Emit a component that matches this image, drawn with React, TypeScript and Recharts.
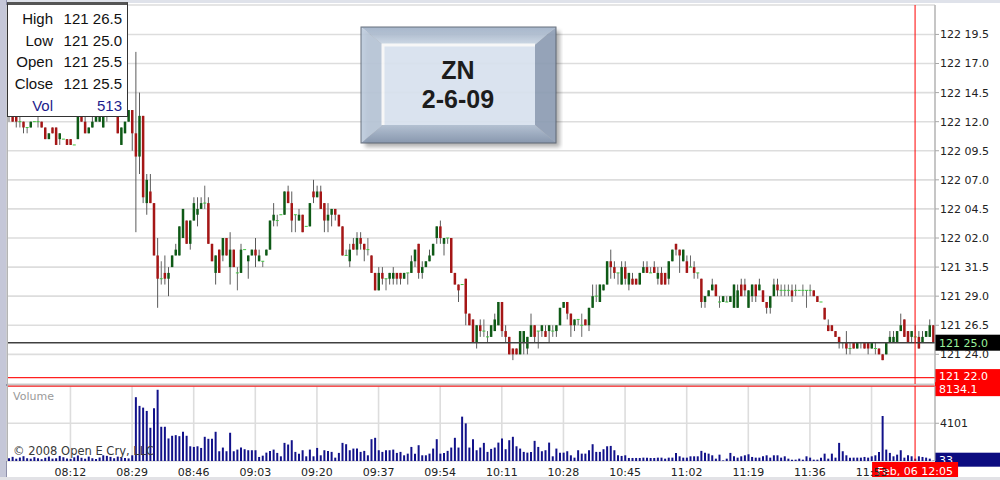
import { ComposedChart, BarChart, Bar, XAxis, YAxis, CartesianGrid, ReferenceLine } from 'recharts';

// prices are in 32nds above 121-00 (e.g. 25.5 = 121 25.5, 34 = 122 02.0)
const opens = [
  44.5, 44.5, 44.5, 44, 44, 43.5, 43.5, 44, 44, 44,
  43.5, 42.5, 43.5, 43.5, 42.5, 42.5, 42.5, 42.5, 42, 42.5,
  44.5, 44, 43, 43.5, 44, 44, 43.5, 44.5, 44.5, 44.5,
  44.5, 42, 43, 44, 45, 43, 41, 44.5, 37, 38,
  37, 32.5, 30.5, 31, 30.5, 31.5, 32.5, 32.5, 34, 35.5,
  33.5, 35.5, 36, 36.5, 37, 37, 33.5, 31, 33, 32.5,
  34, 31.5, 33, 31, 31, 33, 32, 32.5, 33, 32,
  32, 32.5, 33, 35.5, 35.5, 36, 36, 38, 37, 36,
  35.5, 36, 35, 35, 38, 37.5, 38, 37, 35.5, 36,
  36.5, 36, 35, 32.5, 32, 33.5, 33, 34, 33.5, 33,
  32.5, 31, 29.5, 31, 30.5, 30.5, 30.5, 31, 31, 30.5,
  31, 31, 32, 33.5, 31, 31.5, 32, 32.5, 34, 35,
  33.5, 34, 34, 31, 30, 30, 30.5, 27.5, 27, 25,
  26.5, 26, 25.5, 25.5, 26, 26.5, 28.5, 26, 25.5, 24.5,
  24.5, 24, 25, 24.5, 25.5, 26.5, 26, 26, 26, 26,
  26, 26, 26.5, 28, 28.5, 27.5, 26.5, 27, 26.5, 27,
  26.5, 28, 29, 28.5, 29.5, 30, 32, 31.5, 31, 30,
  31.5, 30, 30.5, 30.5, 30, 31, 31.5, 31, 31.5, 30.5,
  31, 31, 30.5, 32, 33.5, 33, 32, 32, 31.5, 31.5,
  31, 30.5, 28.5, 29, 29.5, 30, 28.5, 28.5, 28.5, 28.5,
  28, 28, 30, 30, 28, 29, 30, 29.5, 29.5, 28.5,
  28, 29, 30, 29.5, 29.5, 29.5, 29.5, 29.5, 29.5, 29.5,
  29.5, 29.5, 29.5, 29, 28.5, 28, 26.5, 26.5, 26, 25.5,
  25, 25, 24.5, 25, 24.5, 25, 25, 25, 24.5, 24.5,
  24.5, 24, 24, 25, 25, 25, 26, 27, 26, 25.5,
  25.5, 25.5, 25, 25.5, 25.5, 26.5,
];
const highs = [
  45, 45, 45, 44.5, 44, 43.5, 44, 44, 44.5, 44,
  43.5, 43, 43.5, 43.5, 43, 42.5, 42.5, 42.5, 42, 44.5,
  45, 44.5, 43.5, 44.5, 45, 45, 45, 45, 45, 45,
  45, 43.5, 44, 45, 45, 50, 46.5, 44.5, 39.5, 39.5,
  37, 34, 32, 32.5, 31.5, 32.5, 33.5, 35, 36.5, 35.5,
  35.5, 37.5, 37.5, 37.5, 38.5, 37.5, 33.5, 32.5, 33, 34,
  34, 34.5, 33, 31.5, 33.5, 33, 32.5, 33, 34, 33,
  32, 33, 35.5, 37, 36, 36, 38, 38.5, 38, 36,
  36.5, 36, 35, 37, 39, 38.5, 38.5, 37, 37, 36.5,
  36.5, 36, 35, 33, 33.5, 34, 34.5, 34.5, 33.5, 34,
  32.5, 31, 31.5, 31.5, 30.5, 31, 31.5, 31, 31, 31,
  31, 32.5, 33, 33.5, 32, 32, 33, 33.5, 35, 35.5,
  34, 34, 34, 31, 30, 30, 30.5, 27.5, 27, 26.5,
  27, 27, 26, 26.5, 27.5, 28.5, 28.5, 26.5, 25.5, 24.5,
  24.5, 26, 26, 25.5, 27.5, 26.5, 26, 26.5, 26.5, 26.5,
  26.5, 26.5, 28, 28.5, 28.5, 27.5, 27, 27, 27.5, 27,
  28, 30, 30, 30, 30, 32, 33, 32, 31, 32,
  32, 31, 31, 30.5, 31, 32, 32, 31.5, 32, 31.5,
  31.5, 31, 32, 33, 33.5, 33, 33, 32.5, 32.5, 32,
  31, 30.5, 29, 29.5, 30.5, 30, 29, 29, 29, 29,
  30, 30, 30.5, 30.5, 29.5, 30, 30, 30.5, 29.5, 28.5,
  29, 30.5, 30.5, 30, 30, 30, 30, 30, 29.5, 30,
  29.5, 30, 29.5, 29, 28.5, 28, 27, 26.5, 26, 25.5,
  25, 26, 25, 25, 25, 25, 25, 25, 25, 25,
  24.5, 24, 25, 26, 26, 26, 27.5, 27, 26, 26,
  26.5, 26, 26, 26, 27, 26.5,
];
const lows = [
  44, 44, 43.5, 43.5, 43, 43, 43.5, 44, 43.5, 43.5,
  42.5, 42.5, 43, 42, 42, 42.5, 42, 42, 42, 42.5,
  44, 43, 43, 43.5, 44, 44, 43.5, 44, 44.5, 44.5,
  43, 42, 43, 44, 41.5, 34.5, 39.5, 37, 36, 37,
  32.5, 28, 30, 30, 29, 31.5, 32.5, 32.5, 34, 33.5,
  33, 35.5, 35, 36.5, 36.5, 33.5, 32, 30, 31, 32,
  32.5, 30, 31.5, 29.5, 31, 33, 30.5, 32.5, 31.5, 32,
  31.5, 32.5, 33, 35, 35, 36, 36, 37, 34.5, 34.5,
  35.5, 34.5, 35, 35, 37, 37.5, 36.5, 34.5, 34.5, 35,
  35.5, 35, 32.5, 32.5, 31.5, 33, 32.5, 33, 32, 32.5,
  31, 29.5, 29.5, 30, 29.5, 30, 30, 30, 30, 30.5,
  30, 31, 31.5, 30.5, 30.5, 31.5, 32, 32.5, 33.5, 33.5,
  32.5, 33.5, 31, 30, 28.5, 30, 26.5, 26.5, 25, 24.5,
  25.5, 25.5, 25, 25.5, 26, 26.5, 25.5, 25, 24, 23.5,
  24, 24, 24, 24, 25.5, 25, 24.5, 25.5, 25.5, 25,
  25.5, 25.5, 26.5, 28, 27, 25.5, 26, 26.5, 25.5, 26.5,
  26, 28, 28.5, 28.5, 29.5, 30, 30.5, 30.5, 30, 30,
  30, 29.5, 30, 30, 30, 31, 31, 31, 31, 30,
  30, 30, 30, 32, 32.5, 31, 32, 31, 31.5, 30.5,
  30.5, 28, 28, 29, 29.5, 29, 28, 28.5, 28.5, 28.5,
  28, 28, 29, 29, 28, 28.5, 28.5, 29.5, 28.5, 27.5,
  27.5, 29, 29, 29, 29, 29, 28.5, 29, 29.5, 29,
  28, 29, 29, 28.5, 28.5, 27, 26, 26, 25.5, 24.5,
  24.5, 24, 24, 24.5, 24.5, 24.5, 24.5, 24, 24.5, 24,
  24, 23.5, 24, 25, 25, 25, 26, 25.5, 25, 25,
  25, 24.5, 25, 25.5, 25.5, 25,
];
const closes = [
  44.5, 44, 44, 44, 43.5, 43.5, 44, 44, 44, 43.5,
  42.5, 43, 43, 42, 43, 42.5, 42, 42, 42, 44.5,
  44, 43, 43.5, 44, 44.5, 44.5, 44.5, 44.5, 44.5, 44.5,
  43, 43.5, 44, 45, 43, 41, 44.5, 37.5, 39, 37,
  32.5, 30.5, 30.5, 30.5, 31, 32.5, 33, 35, 36.5, 33.5,
  35.5, 37, 36.5, 37, 37, 33.5, 32, 32.5, 31, 34,
  32.5, 33, 31.5, 31, 33, 33, 32.5, 33, 32.5, 32.5,
  32, 33, 35.5, 36, 35.5, 36, 38, 37, 35.5, 36,
  36, 34.5, 35, 37, 37.5, 38, 36.5, 35.5, 36, 36.5,
  36, 35, 32.5, 32.5, 33, 33, 34, 33.5, 33, 33,
  31, 29.5, 31, 30.5, 30.5, 31, 31, 30.5, 30.5, 31,
  31, 32, 33, 31, 31.5, 32, 32.5, 33.5, 35, 34,
  34, 34, 31, 30, 29.5, 30, 27.5, 26.5, 25, 26.5,
  26, 26, 25.5, 26.5, 27, 28.5, 26, 25.5, 24, 24,
  24, 26, 26, 25.5, 26.5, 25.5, 26, 26.5, 25.5, 26.5,
  26, 26.5, 28, 28.5, 27.5, 26.5, 27, 27, 26.5, 26.5,
  28, 29, 29, 30, 30, 32, 31.5, 31, 31, 31.5,
  30.5, 31, 30, 30, 31, 31.5, 31, 31, 31, 31,
  30, 30, 32, 33, 33, 32.5, 33, 31, 31.5, 31,
  31, 28.5, 29, 29.5, 30, 29, 28.5, 29, 28.5, 29,
  30, 29.5, 29, 29.5, 29.5, 30, 29, 30, 28.5, 28,
  29, 30, 29.5, 29.5, 29.5, 29.5, 29, 29.5, 29.5, 29.5,
  29.5, 29.5, 29, 28.5, 28.5, 27, 26, 26, 25.5, 25,
  25, 24.5, 24.5, 24.5, 25, 25, 24.5, 24.5, 25, 24.5,
  24, 23.5, 25, 25.5, 25.5, 26, 26.5, 25.5, 25, 26,
  25.5, 24.5, 25.5, 26, 26.5, 25,
];
const volumes = [
  300, 450, 250, 380, 520, 300, 250, 420, 300, 200,
  350, 480, 260, 300, 550, 410, 280, 230, 400, 600,
  350, 250, 480, 300, 220, 380, 620, 560, 450, 300,
  480, 380, 330, 280, 620, 6935, 5990, 5800, 5440, 3610,
  5730, 7740, 3720, 3720, 2450, 2740, 2810, 2700, 3175, 2740,
  1600, 1530, 1600, 1420, 2630, 2410, 2410, 3175, 1060, 1460,
  1060, 3070, 1060, 1240, 1460, 1280, 1170, 1170, 1170, 440,
  580, 910, 1100, 1240, 880, 510, 1970, 1790, 2260, 990,
  800, 1170, 510, 1240, 510, 1420, 620, 1170, 1100, 990,
  365, 880, 1970, 1825, 1170, 1350, 1350, 990, 1100, 620,
  2370, 2520, 1170, 990, 1170, 1170, 1240, 880, 990, 620,
  800, 1530, 800, 1715, 620, 620, 800, 1350, 2370, 800,
  880, 1100, 1460, 2520, 1460, 4820, 4090, 1460, 2370, 1170,
  1460, 1970, 990, 1315, 1460, 2000, 2450, 1280, 2260, 2630,
  1600, 1350, 990, 910, 990, 2190, 1530, 1060, 1170, 2000,
  510, 1350, 910, 910, 1060, 620, 365, 1170, 800, 800,
  1170, 1825, 990, 990, 1280, 1600, 1640, 1170, 620, 550,
  620, 330, 330, 330, 330, 365, 365, 330, 330, 365,
  365, 255, 365, 365, 880, 510, 365, 365, 510, 510,
  510, 1100, 910, 800, 620, 255, 690, 70, 255, 880,
  510, 365, 510, 620, 730, 440, 365, 365, 510, 620,
  365, 620, 620, 365, 510, 255, 145, 145, 255, 145,
  510, 365, 145, 145, 365, 800, 255, 800, 365, 1970,
  1060, 620, 365, 365, 365, 365, 440, 365, 510, 620,
  990, 4890, 1240, 880, 510, 690, 1170, 365, 620, 513,
  255, 510, 440, 365, 255, 33,
];

const timeTicks = ['08:12', '08:29', '08:46', '09:03', '09:20', '09:37', '09:54', '10:11', '10:28', '10:45', '11:02', '11:19', '11:36', '11:53'];
const priceTicks = [24, 26.5, 29, 31.5, 34, 36.5, 39, 41.5, 44, 46.5, 49, 51.5];
const volumeTicks = [4101];

const lastPrice = 25;
const crossPrice = 22;
const crossVolume = 8134.1;
const crossTime = '12:05';

const pad = (n: number) => (n < 10 ? '0' + n : '' + n);
const times = opens.map((_, i) => {
  const m = 7 * 60 + 55 + i;
  return `${pad(Math.floor(m / 60))}:${pad(m % 60)}`;
});

const rows = times.map((t, i) => ({
  t,
  o: opens[i],
  h: highs[i],
  l: lows[i],
  c: closes[i],
  range: [lows[i], highs[i]],
  v: volumes[i],
}));

const fmt = (v: number) => {
  const w = Math.floor(v / 32);
  const f = v - w * 32;
  return `${121 + w} ${f < 10 ? '0' : ''}${f.toFixed(1)}`;
};

const FONT = 'DejaVu Sans';
const tickStyle = { fill: '#222', fontSize: 11, fontFamily: FONT };

function Candle(props: any) {
  const { x, y, width, height, payload } = props;
  if (x == null || !payload) return null;
  const { o, h, l, c } = payload;
  const top = Math.min(y, y + height);
  const bot = Math.max(y, y + height);
  const k = h > l ? (bot - top) / (h - l) : 0;
  const py = (v: number) => top + (h - v) * k;
  const cx = x + width / 2;
  if (o === c) {
    return (
      <g>
        {h > l && <line x1={cx} x2={cx} y1={top} y2={bot} stroke="#6a6a6a" strokeWidth={1} />}
        <line x1={cx - 1.5} x2={cx + 1.5} y1={py(o)} y2={py(o)} stroke="#3ec43e" strokeWidth={1} />
      </g>
    );
  }
  const up = c > o;
  const bTop = py(Math.max(o, c));
  const bBot = py(Math.min(o, c));
  return (
    <g>
      <line x1={cx} x2={cx} y1={top} y2={bot} stroke="#5a5a5a" strokeWidth={1} />
      <rect x={cx - 1.25} y={bTop} width={2.5} height={Math.max(1, bBot - bTop)} fill={up ? '#0e5a16' : '#a51616'} />
    </g>
  );
}

// value tag in the right axis strip; off shifts the box so stacked tags don't cover each other
function SideTag(props: any) {
  const { viewBox, text, bg, fg, h = 15, off = 0 } = props;
  if (!viewBox) return null;
  const x = viewBox.x + viewBox.width;
  const y = viewBox.y + off;
  return (
    <g>
      <rect x={x} y={y - h / 2} width={65} height={h} fill={bg} />
      <text x={x + 4} y={y + 4} fill={fg} fontSize={11} fontFamily={FONT}>{text}</text>
    </g>
  );
}

function TimeTag(props: any) {
  const { viewBox, text } = props;
  if (!viewBox) return null;
  const x = viewBox.x;
  const y = viewBox.y + viewBox.height;
  return (
    <g>
      <rect x={x - 43} y={y + 1} width={86} height={17} fill="#ff0000" />
      <text x={x} y={y + 14} textAnchor="middle" fill="#fff" fontSize={11} fontFamily={FONT}>{text}</text>
    </g>
  );
}

function TitleBox() {
  return (
    <svg width={205} height={126} style={{ position: 'absolute', left: 358, top: 24 }}>
      <defs>
        <filter id="sh" x="-10%" y="-10%" width="130%" height="130%">
          <feGaussianBlur stdDeviation="2" />
        </filter>
        <linearGradient id="topb" x1="0" y1="0" x2="0" y2="1">
          <stop offset="0" stopColor="#9eafc6" />
          <stop offset="1" stopColor="#d2deec" />
        </linearGradient>
        <linearGradient id="botb" x1="0" y1="0" x2="0" y2="1">
          <stop offset="0" stopColor="#b4c3d6" />
          <stop offset="1" stopColor="#8495ae" />
        </linearGradient>
      </defs>
      <rect x={7} y={7} width={195} height={116} fill="#000" opacity={0.3} filter="url(#sh)" />
      <g opacity={0.9}>
        <polygon points="3,3 198,3 177,21 25,21" fill="url(#topb)" />
        <polygon points="3,3 25,21 25,101 3,119" fill="#bccadc" />
        <polygon points="198,3 198,119 177,101 177,21" fill="#92a2b9" />
        <polygon points="3,119 198,119 177,101 25,101" fill="url(#botb)" />
        <rect x={25} y={21} width={152} height={80} fill="#dfe9f6" />
        <polyline points="25,101 25,21 177,21" fill="none" stroke="#ffffff" strokeWidth={3} />
        <rect x={3} y={3} width={195} height={116} fill="none" stroke="#56606e" strokeWidth={1} />
      </g>
      <text x={100} y={55} textAnchor="middle" fontFamily="Liberation Sans" fontWeight="bold" fontSize={25} fill="#1c1c1c">ZN</text>
      <text x={100} y={84} textAnchor="middle" fontFamily="Liberation Sans" fontWeight="bold" fontSize={25} fill="#1c1c1c">2-6-09</text>
    </svg>
  );
}

const infoRows = [
  { k: 'High', v: '121 26.5', color: '#111' },
  { k: 'Low', v: '121 25.0', color: '#111' },
  { k: 'Open', v: '121 25.5', color: '#111' },
  { k: 'Close', v: '121 25.5', color: '#111' },
  { k: 'Vol', v: '513', color: '#1c1c8c' },
];

function InfoBox() {
  return (
    <div
      style={{
        position: 'absolute', left: 7, top: 2, width: 119, height: 111,
        background: '#fff', border: '1px solid #333', borderTop: '3px solid #555',
        fontFamily: 'Liberation Sans', fontSize: 15,
      }}
    >
      {infoRows.map((r, i) => (
        <div key={r.k} style={{ position: 'absolute', top: 3 + i * 21.7, left: 0, width: 119, height: 21, lineHeight: '21px', color: r.color }}>
          <span style={{ position: 'absolute', right: 74, textAlign: 'right' }}>{r.k}</span>
          <span style={{ position: 'absolute', right: 5, textAlign: 'right' }}>{r.v}</span>
        </div>
      ))}
    </div>
  );
}

export default function App() {
  return (
    <div style={{ position: 'absolute', left: 0, top: 0, width: 1000, height: 480, background: '#fff', overflow: 'hidden' }}>
      <div style={{ position: 'absolute', left: 0, top: 0, width: 1000, height: 3, background: '#dfe2ea' }} />
      <div style={{ position: 'absolute', left: 0, top: 0, width: 6, height: 480, background: '#c5c7d8', borderRight: '1px solid #8e90aa' }} />

      <div style={{ position: 'absolute', left: 0, top: 0 }}>
        <ComposedChart width={1000} height={384} data={rows} margin={{ top: 5, right: 0, left: 7, bottom: 0 }} barCategoryGap={0}>
          <CartesianGrid stroke="#dddddd" strokeWidth={1.6} />
          <XAxis dataKey="t" ticks={timeTicks} interval={0} tick={false} tickLine={false} axisLine={false} height={0} />
          <YAxis
            orientation="right"
            width={65}
            type="number"
            domain={[21.45, 54.03]}
            allowDataOverflow
            ticks={priceTicks}
            interval={0}
            tickFormatter={fmt}
            tick={tickStyle}
            tickSize={4}
            tickMargin={1}
            axisLine={{ stroke: '#a8a8a8' }}
            tickLine={{ stroke: '#a8a8a8' }}
          />
          <ReferenceLine y={lastPrice} stroke="#404040" strokeWidth={1.5} label={<SideTag text={fmt(lastPrice)} bg="#000" fg="#9af09a" h={16} />} />
          <ReferenceLine y={crossPrice} stroke="#ff2020" strokeWidth={1.2} label={<SideTag text={fmt(crossPrice)} bg="#ff0000" fg="#fff" h={14} off={-1.5} />} />
          <ReferenceLine x={crossTime} stroke="#ff0000" />
          <Bar dataKey="range" shape={(p: any) => <Candle {...p} />} isAnimationActive={false} />
        </ComposedChart>
      </div>

      <div style={{ position: 'absolute', left: 7, top: 384, width: 928, height: 2, background: '#c8c8c8' }} />

      <div style={{ position: 'absolute', left: 0, top: 368 }}>
        <BarChart width={1000} height={112} data={rows} margin={{ top: 18, right: 0, left: 7, bottom: 0 }} barCategoryGap={0}>
          <CartesianGrid stroke="#dddddd" strokeWidth={1.6} />
          <XAxis dataKey="t" ticks={timeTicks} interval={0} tickLine={false} axisLine={false} height={19} tick={tickStyle} tickMargin={1} />
          <YAxis
            orientation="right"
            width={65}
            type="number"
            domain={[0, 8150]}
            allowDataOverflow
            ticks={volumeTicks}
            interval={0}
            tick={tickStyle}
            tickSize={4}
            tickMargin={1}
            axisLine={{ stroke: '#a8a8a8' }}
            tickLine={{ stroke: '#a8a8a8' }}
          />
          <Bar dataKey="v" fill="#12128a" barSize={2} isAnimationActive={false} />
          <ReferenceLine y={crossVolume} stroke="#ff0000" label={<SideTag text={String(crossVolume)} bg="#ff0000" fg="#fff" h={14} off={3} />} />
          <ReferenceLine y={volumes[volumes.length - 1]} stroke="none" label={<SideTag text={String(volumes[volumes.length - 1])} bg="#0c0c80" fg="#fff" h={14} off={-1} />} />
          <ReferenceLine x={crossTime} stroke="#ff0000" label={<TimeTag text={`Feb, 06 ${crossTime}`} />} />
        </BarChart>
      </div>

      <div style={{ position: 'absolute', left: 7, top: 4, width: 1, height: 457, background: '#b4b4b4' }} />
      <div style={{ position: 'absolute', left: 13, top: 390, fontFamily: FONT, fontSize: 11, color: '#9a9a9a' }}>Volume</div>
      <div style={{ position: 'absolute', left: 13, top: 444, fontFamily: FONT, fontSize: 11.5, color: '#3a3a3a' }}>© 2008 Open E Cry, LLC</div>
      <div style={{ position: 'absolute', left: 0, top: 477, width: 1000, height: 3, background: '#e2e2e6' }} />

      <TitleBox />
      <InfoBox />
    </div>
  );
}
